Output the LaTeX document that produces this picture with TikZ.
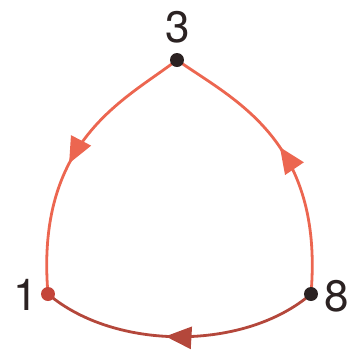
\documentclass[tikz,border=0pt]{standalone}
\usepackage{fontspec}
\setmainfont{TeX Gyre Heros}
\usetikzlibrary{arrows.meta,decorations.markings,backgrounds}
\definecolor{arcred}{HTML}{EC6650}
\definecolor{arcdark}{HTML}{B4473B}
\definecolor{dotdark}{HTML}{2B2222}
\definecolor{dotred}{HTML}{C4453A}
\tikzset{
  dot/.style={circle,inner sep=0pt,minimum size=14pt},
  lab/.style={inner sep=0pt,font=\fontsize{44}{44}\selectfont,text=dotdark},
  arc/.style={line width=2.8pt},
  midarrow/.style={postaction={decorate,decoration={markings,
    mark=at position #1 with {\arrow{Triangle[length=26pt,width=22pt]}}}}}
}
\begin{document}
\begin{tikzpicture}[x=1pt,y=-1pt]
\useasboundingbox (0,0) rectangle (358,360);
\node[dot,fill=dotdark] (n3) at (177,60) {};
\node[dot,fill=dotred] (n1) at (48,294) {};
\node[dot,fill=dotdark] (n8) at (311,294) {};
\node[lab] (l3) at (178,27) {3};
\node[lab] (l1) at (26,295) {1};
\node[lab] (l8) at (337,296) {8};
\begin{scope}[on background layer]
\draw[arc,arcred,midarrow=0.53] (n3.center) .. controls (125,100) and (35,140) .. (n1.center);
\draw[arc,arcred,midarrow=0.53] (n8.center) .. controls (324,140) and (234,100) .. (n3.center);
\draw[arc,arcdark,midarrow=0.55] (n8.center) .. controls (245,351) and (115,351) .. (n1.center);
\end{scope}
\end{tikzpicture}
\end{document}
